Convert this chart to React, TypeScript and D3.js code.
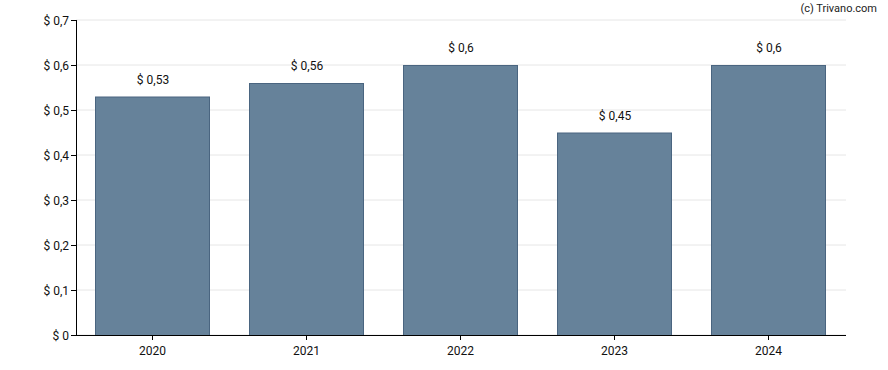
import React from 'react';
import * as d3 from 'd3';

const years = ['2020', '2021', '2022', '2023', '2024'];
const dividends = [0.53, 0.56, 0.6, 0.45, 0.6];
const yTicks = [0, 0.1, 0.2, 0.3, 0.4, 0.5, 0.6, 0.7];

const width = 888;
const height = 370;
const margin = { top: 20, right: 42, bottom: 35, left: 76 };

const fmt = (v: number) => '$ ' + String(+v.toFixed(2)).replace('.', ',');

const App = () => {
  const x = d3
    .scaleBand()
    .domain(years)
    .range([margin.left, width - margin.right])
    .paddingInner(0.26)
    .paddingOuter(0.13);
  const y = d3
    .scaleLinear()
    .domain([0, 0.7])
    .range([height - margin.bottom, margin.top]);

  const font = 'Roboto, sans-serif';

  return (
    <svg
      width={width}
      height={height}
      style={{ position: 'absolute', left: 0, top: 0, fontFamily: font }}
    >
      <rect width={width} height={height} fill="#fff" />
      {/* grid */}
      {yTicks.map((t) => (
        <line
          key={'g' + t}
          x1={margin.left}
          x2={width - margin.right}
          y1={y(t)}
          y2={y(t)}
          stroke="#e6e6e6"
          strokeWidth={1}
        />
      ))}
      {/* bars */}
      {years.map((yr, i) => (
        <g key={yr}>
          <rect
            x={Math.round(x(yr)!) - 0.5}
            y={y(dividends[i]) + 0.5}
            width={Math.round(x.bandwidth())}
            height={y(0) - y(dividends[i])}
            fill="#66829a"
            stroke="#4a6580"
            strokeWidth={1}
          />
          <text
            x={x(yr)! + x.bandwidth() / 2}
            y={y(dividends[i]) - 13}
            textAnchor="middle"
            fontSize={12}
            fill="#111"
          >
            {fmt(dividends[i])}
          </text>
        </g>
      ))}
      {/* y axis */}
      <line
        x1={margin.left + 0.5}
        x2={margin.left + 0.5}
        y1={margin.top}
        y2={height - margin.bottom}
        stroke="#000"
      />
      {yTicks.map((t) => (
        <g key={'y' + t}>
          <line
            x1={margin.left - 5}
            x2={margin.left}
            y1={y(t) + 0.5}
            y2={y(t) + 0.5}
            stroke="#000"
          />
          <text
            x={margin.left - 7}
            y={y(t) + 4.5}
            textAnchor="end"
            fontSize={12}
            fill="#111"
          >
            {fmt(t)}
          </text>
        </g>
      ))}
      {/* x axis */}
      <line
        x1={margin.left}
        x2={width - margin.right}
        y1={y(0) + 0.5}
        y2={y(0) + 0.5}
        stroke="#000"
      />
      {years.map((yr) => {
        const cx = Math.round(x(yr)! + x.bandwidth() / 2) - 0.5;
        return (
          <g key={'x' + yr}>
            <line x1={cx} x2={cx} y1={y(0)} y2={y(0) + 5} stroke="#000" />
            <text x={cx} y={y(0) + 20} textAnchor="middle" fontSize={12} fill="#111">
              {yr}
            </text>
          </g>
        );
      })}
      <text x={877} y={12} textAnchor="end" fontSize={11} fill="#222">
        (c) Trivano.com
      </text>
    </svg>
  );
};

export default App;
